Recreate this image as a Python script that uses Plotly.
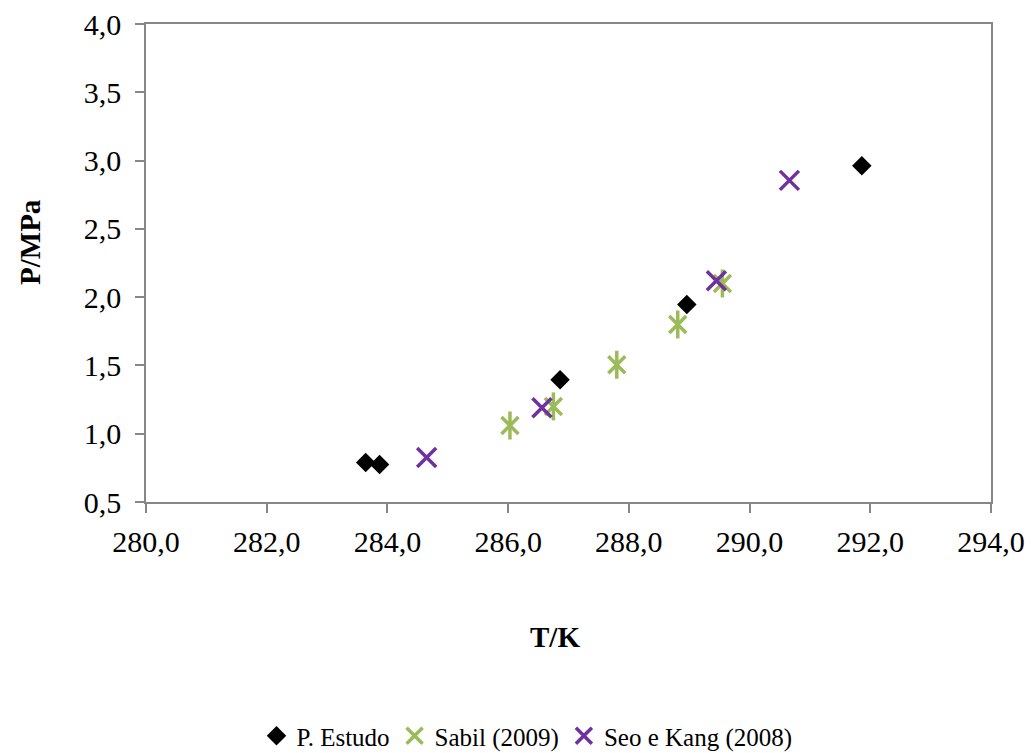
import plotly.graph_objects as go

# Data
estudo_T = [283.64, 283.87, 286.86, 288.96, 291.86]
estudo_P = [0.79, 0.775, 1.395, 1.947, 2.962]

sabil_T = [286.03, 286.75, 287.80, 288.81, 289.55]
sabil_P = [1.06, 1.20, 1.505, 1.80, 2.10]

seo_T = [284.65, 286.56, 289.45, 290.66]
seo_P = [0.825, 1.19, 2.12, 2.855]

x_ticks = [280, 282, 284, 286, 288, 290, 292, 294]
y_ticks = [0.5, 1.0, 1.5, 2.0, 2.5, 3.0, 3.5, 4.0]

FONT = "Liberation Serif"
GRAY = "#878787"
GREEN = "#9BBB59"
PURPLE = "#7030A0"

fig = go.Figure()

fig.add_trace(go.Scatter(
    x=estudo_T, y=estudo_P, mode="markers", name="P. Estudo",
    marker=dict(symbol="diamond", size=15, color="black"),
))
fig.add_trace(go.Scatter(
    x=sabil_T, y=sabil_P, mode="markers", name="Sabil (2009)",
    legendgroup="sabil",
    marker=dict(symbol="x-thin-open", size=17, color=GREEN,
                line=dict(color=GREEN, width=3.5)),
))
fig.add_trace(go.Scatter(
    x=sabil_T, y=sabil_P, mode="markers", name="Sabil (2009)",
    legendgroup="sabil", showlegend=False,
    marker=dict(symbol="line-ns-open", size=20, color=GREEN,
                line=dict(color=GREEN, width=3.5)),
))
fig.add_trace(go.Scatter(
    x=seo_T, y=seo_P, mode="markers", name="Seo e Kang (2008)",
    marker=dict(symbol="x-thin-open", size=19, color=PURPLE,
                line=dict(color=PURPLE, width=3.5)),
))

axis_common = dict(
    showline=True, linecolor=GRAY, linewidth=1.5, mirror=True,
    ticks="outside", ticklen=9, tickcolor=GRAY, tickwidth=1.5,
    showgrid=False, zeroline=False,
    tickfont=dict(family=FONT, size=30, color="black"),
    tickformat=".1f",
)

fig.update_xaxes(range=[280, 294], tickvals=x_ticks, ticklabelstandoff=3,
                 **axis_common)
fig.update_yaxes(range=[0.5, 4.0], tickvals=y_ticks, ticklabelstandoff=8,
                 **axis_common)

fig.add_annotation(
    text="<b>T/K</b>", xref="paper", yref="paper", x=(555 - 146) / 845,
    y=(502 - 637) / 478, showarrow=False, xanchor="center", yanchor="middle",
    font=dict(family=FONT, size=29, color="black"),
)
fig.add_annotation(
    text="<b>P/MPa</b>", xref="paper", yref="paper", x=(30 - 146) / 845,
    y=(502 - 242) / 478, showarrow=False, xanchor="center", yanchor="middle",
    textangle=-90, font=dict(family=FONT, size=29, color="black"),
)

fig.update_layout(
    width=1031, height=753,
    margin=dict(l=146, r=40, t=24, b=251, autoexpand=False),
    paper_bgcolor="white", plot_bgcolor="white",
    separators=", ",
    showlegend=True,
    legend=dict(
        orientation="h", xref="paper", yref="paper",
        x=(527 - 146) / 845, y=(502 - 736) / 478,
        xanchor="center", yanchor="middle",
        font=dict(family=FONT, size=25, color="black"),
        itemwidth=30, tracegroupgap=0,
        bgcolor="rgba(0,0,0,0)",
    ),
)

fig.write_html("out.html")
